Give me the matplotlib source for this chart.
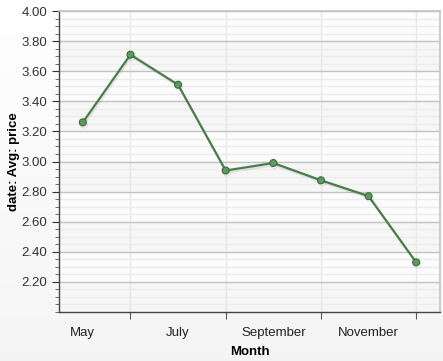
import matplotlib
matplotlib.use("Agg")
import matplotlib.pyplot as plt
import numpy as np
from matplotlib.ticker import MultipleLocator, FixedLocator, FixedFormatter
import matplotlib.patheffects as pe

months = ["May", "June", "July", "August", "September", "October", "November", "December"]
prices = [3.26, 3.71, 3.51, 2.94, 2.99, 2.875, 2.77, 2.33]
label_months = ["May", "July", "September", "November"]
ytick_vals = [2.20, 2.40, 2.60, 2.80, 3.00, 3.20, 3.40, 3.60, 3.80, 4.00]

plt.rcParams['font.family'] = ['Liberation Sans', 'DejaVu Sans']

fig = plt.figure(figsize=(4.43, 3.61), dpi=100)
# background gradient
bg = fig.add_axes([0, 0, 1, 1], zorder=-10)
grad = np.linspace(1.0, 0.96, 256).reshape(-1, 1)
bg.imshow(np.dstack([grad, grad, grad]), aspect='auto', extent=[0, 1, 0, 1], origin='upper')
bg.axis('off')

ax = fig.add_axes([59/443, 49/361, 381/443, 301/361])
x = np.arange(len(months))
ax.set_xlim(-0.5, 7.5)
ax.set_ylim(2.0, 4.0)
ax.set_facecolor('#fcfcfc')

# alternating bands
for i, y0 in enumerate(np.arange(2.0, 4.0, 0.2)):
    if i % 2 == 0:
        ax.axhspan(y0, y0 + 0.2, color='#f6f6f6', zorder=0, lw=0)

ax.yaxis.set_major_locator(FixedLocator(ytick_vals))
ax.yaxis.set_major_formatter(FixedFormatter([f"{v:.2f}" for v in ytick_vals]))
ax.yaxis.set_minor_locator(MultipleLocator(0.05))
ax.grid(True, which='major', axis='y', color='#c2c2c2', lw=1, zorder=1)
ax.grid(True, which='minor', axis='y', color='#ececec', lw=1, zorder=1)

# x ticks at in-between months, labels at labeled months
label_pos = [months.index(m) for m in label_months]
ax.set_xticks([p + 1 for p in label_pos])
ax.set_xticklabels([])
ax.set_xticks(label_pos, minor=True)
ax.set_xticklabels(label_months, minor=True)
ax.tick_params(axis='x', which='minor', length=0, pad=11, labelsize=9.5, colors='#222222')
ax.tick_params(axis='x', which='major', length=5, color='#555555', direction='out')
ax.grid(True, which='major', axis='x', color='#e8e8e8', lw=1, zorder=1)
ax.tick_params(axis='y', which='major', length=5, color='#333333', labelsize=9.5, labelcolor='#333333')
ax.tick_params(axis='y', which='minor', length=3, color='#555555')

for s in ['top', 'right']:
    ax.spines[s].set_color('#c4c4c4')
    ax.spines[s].set_linewidth(1.2)
for s in ['left', 'bottom']:
    ax.spines[s].set_color('#444444')
    ax.spines[s].set_linewidth(1.0)

ax.plot(x, prices, color='#4a7c4a', lw=1.6, marker='o', ms=5,
        markerfacecolor='#5e9a5e', markeredgecolor='#3c6a3c', markeredgewidth=0.8,
        zorder=5,
        path_effects=[pe.SimpleLineShadow(offset=(0.8, -1.5), shadow_color='#000000', alpha=0.08), pe.Normal()])

ax.set_xlabel("Month", fontweight='bold', fontsize=9.5, labelpad=5)
ax.set_ylabel("date: Avg: price", fontweight='bold', fontsize=9.5)
ax.yaxis.set_label_coords(-0.103, 0.5)

fig.savefig("out.png", dpi=100)
